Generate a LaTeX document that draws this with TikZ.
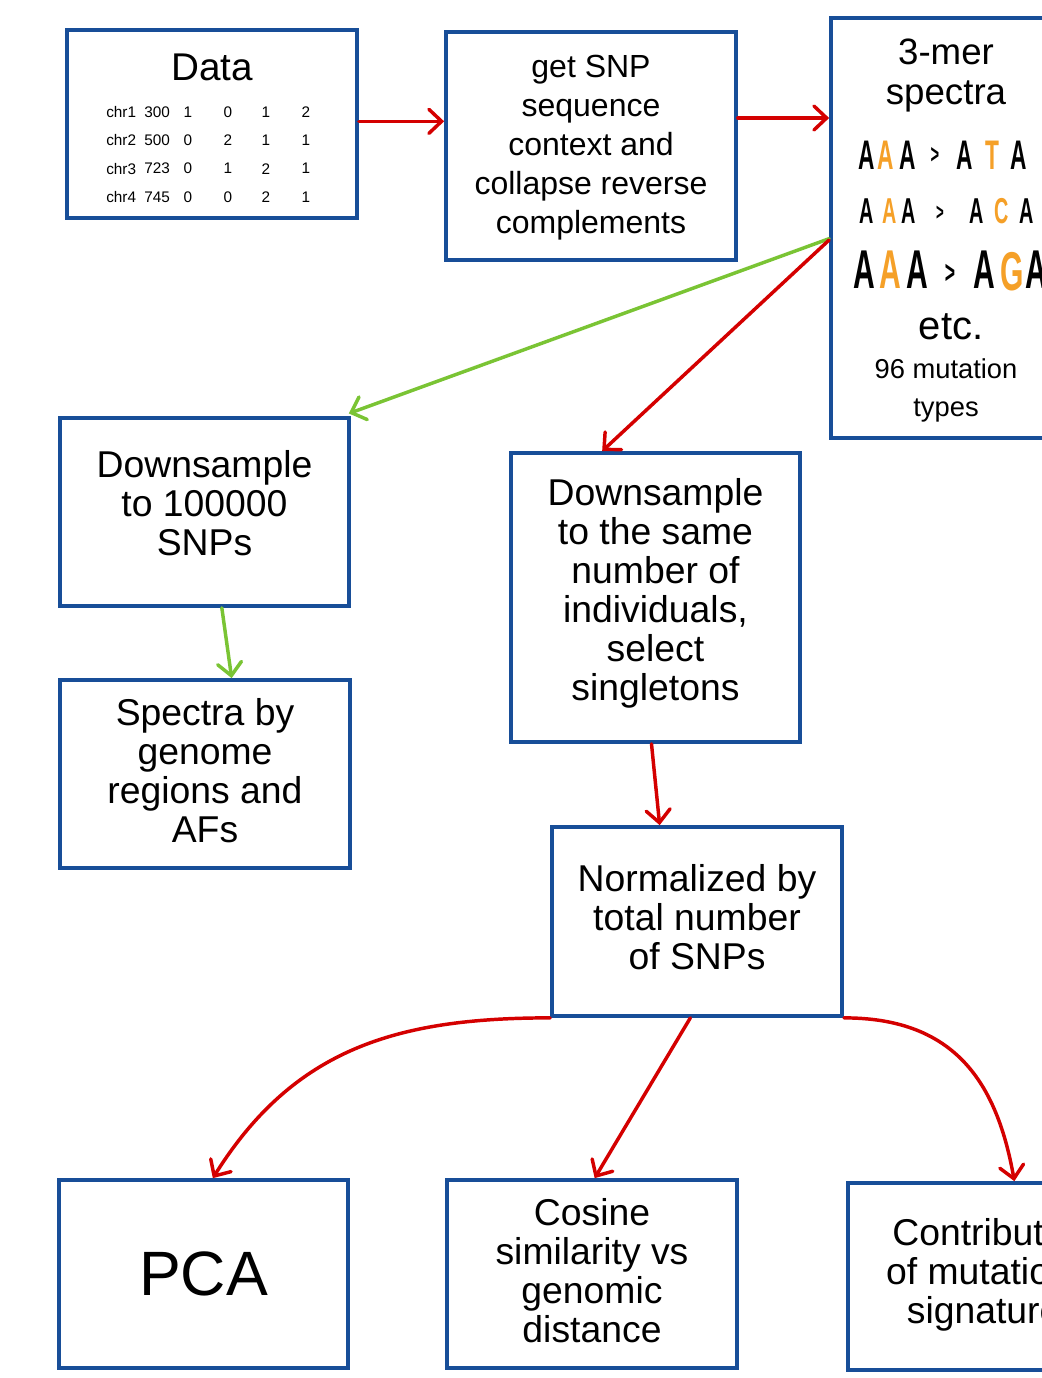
\documentclass[tikz,border=0pt]{standalone}
\usepackage{fontspec}
\setmainfont{Liberation Sans}
\usetikzlibrary{arrows.meta}
\definecolor{boxblue}{RGB}{24,78,152}
\definecolor{flowred}{RGB}{212,0,0}
\definecolor{flowgreen}{RGB}{122,196,52}
\definecolor{mutorange}{RGB}{245,160,40}
% narrow, marker-like letter
\newcommand{\hwl}[1]{\scalebox{0.55}[1]{\bfseries #1}}
\begin{document}
\begin{tikzpicture}[x=0.75pt,y=-0.75pt,
  box/.style={draw=boxblue, line width=2.8pt, align=center, inner sep=0pt,
    minimum width=217.5pt, minimum height=141pt,
    font=\fontsize{28}{29.25}\selectfont},
  flow/.style={line width=2.6pt, -{Straight Barb[length=9.5pt,width=18pt,line cap=round]}, line cap=round},
  redflow/.style={flow, draw=flowred},
  greenflow/.style={flow, draw=flowgreen},
  cell/.style={inner sep=0pt, font=\fontsize{11.5}{12}\selectfont},
  hw/.style={inner sep=0pt}]
\useasboundingbox (0,0) rectangle (1042,1378);
\fill[white] (0,0) rectangle (1042,1378);
\clip (0,0) rectangle (1042,1378);

% boxes
\node[box] (data) at (212,124) {};
\node[box, minimum height=171pt, font=\fontsize{24}{29.25}\selectfont, text depth=2pt] (ctx) at (591,146)
  {get SNP\\sequence\\context and\\collapse reverse\\complements};
\node[box, minimum width=172.5pt, minimum height=315pt] (kmer) at (946,228) {};
\node[box, minimum width=216.75pt, text depth=14pt] (down1) at (204.5,512) {Downsample\\to 100000\\SNPs};
\node[box, text depth=6pt] (regions) at (205,774) {Spectra by\\genome\\regions and\\AFs};
\node[box, minimum width=216.75pt, minimum height=216.75pt, text depth=12pt] (down2) at (655.5,597.5)
  {Downsample\\to the same\\number of\\individuals,\\select\\singletons};
\node[box, minimum height=141.75pt, text depth=7pt] (norm) at (697,921.5) {Normalized by\\total number\\of SNPs};
\node[box, minimum width=216.75pt, font=\fontsize{47}{50}\selectfont] (pca) at (203.5,1274) {PCA};
\node[box, text depth=6pt] (cos) at (592,1274) {Cosine\\similarity vs\\genomic\\distance};
\node[box, minimum height=140.25pt, text depth=9pt] (contrib) at (993,1276.5) {Contribution\\of mutational\\signatures};

% contents of the data box
\node[inner sep=0pt, font=\fontsize{29}{30}\selectfont] (datatitle) at (212,67) {Data};
\foreach \chr/\pos/\a/\b/\c/\d [count=\i] in {chr1/300/1/0/1/2, chr2/500/0/2/1/1, chr3/723/0/1/2/1, chr4/745/0/0/2/1}{
  \pgfmathsetmacro{\ry}{112+(\i-1)*28.33}
  \node[cell, anchor=west] (chr\i) at (106,\ry) {\chr};
  \node[cell, anchor=west] (pos\i) at (144,\ry) {\pos};
  \node[cell] (ga\i) at (188,\ry) {\a};
  \node[cell] (gb\i) at (228,\ry) {\b};
  \node[cell] (gc\i) at (266,\ry) {\c};
  \node[cell] (gd\i) at (306,\ry) {\d};
}

% contents of the 3-mer box
\node[inner sep=0pt, align=center, font=\fontsize{27.5}{30}\selectfont] (kmertitle) at (946,76) {3-mer\\spectra};
\begin{scope}[every node/.style={hw, font=\fontsize{31}{32}\selectfont}]
  \node (m1a) at (867,155) {\hwl{A}};
  \node[text=mutorange] (m1b) at (886,155) {\hwl{A}};
  \node (m1c) at (908,155) {\hwl{A}};
  \node[font=\fontsize{20}{20}\selectfont] (m1d) at (935,155) {\hwl{>}};
  \node (m1e) at (965,155) {\hwl{A}};
  \node[text=mutorange] (m1f) at (992,155) {\hwl{T}};
  \node (m1g) at (1019,155) {\hwl{A}};
\end{scope}
\begin{scope}[every node/.style={hw, font=\fontsize{27}{28}\selectfont}]
  \node (m2a) at (867,211) {\hwl{A}};
  \node[text=mutorange] (m2b) at (890,211) {\hwl{A}};
  \node (m2c) at (909,211) {\hwl{A}};
  \node[font=\fontsize{18}{18}\selectfont] (m2d) at (940,213) {\hwl{>}};
  \node (m2e) at (977,211) {\hwl{A}};
  \node[text=mutorange] (m2f) at (1002,211) {\hwl{C}};
  \node (m2g) at (1027,211) {\hwl{A}};
\end{scope}
\begin{scope}[every node/.style={hw, font=\fontsize{41}{42}\selectfont}]
  \node (m3a) at (864,270) {\hwl{A}};
  \node[text=mutorange] (m3b) at (890,270) {\hwl{A}};
  \node (m3c) at (917,270) {\hwl{A}};
  \node[font=\fontsize{24}{24}\selectfont] (m3d) at (950,274) {\hwl{>}};
  \node (m3e) at (984,270) {\hwl{A}};
  \node[text=mutorange] (m3f) at (1012,272) {\hwl{G}};
  \node (m3g) at (1036,270) {\hwl{A}};
\end{scope}
\node[hw, font=\fontsize{30}{30}\selectfont] (etc) at (951,327) {etc.};
\node[inner sep=0pt, align=center, font=\fontsize{20.5}{28.5}\selectfont] (kmernote) at (946,390) {96 mutation\\types};

% connectors
\draw[redflow] ([yshift=2pt]data.east) -- ([yshift=2pt]data.east -| ctx.west);
\draw[redflow] ([yshift=21pt]ctx.east) -- ([yshift=21pt]ctx.east -| kmer.west);
\draw[greenflow] ([yshift=-8pt]kmer.west) -- ([xshift=-1.5pt,yshift=2pt]down1.north east);
\draw[redflow] ([yshift=-9pt]kmer.west) -- ([xshift=-40pt]down2.north);
\draw[greenflow] ([xshift=13pt]down1.south) -- ([xshift=20pt]regions.north);
\draw[redflow] ([xshift=-3pt]down2.south) -- ([xshift=-28pt]norm.north);
\draw[redflow] (norm.south west) to[out=180, in=58, looseness=1.05] ([xshift=7pt]pca.north);
\draw[redflow] ([xshift=-5pt]norm.south) -- ([xshift=2pt]cos.north);
\draw[redflow] (norm.south east) to[out=0, in=100, looseness=1.15] ([xshift=16pt]contrib.north);
\end{tikzpicture}
\end{document}
